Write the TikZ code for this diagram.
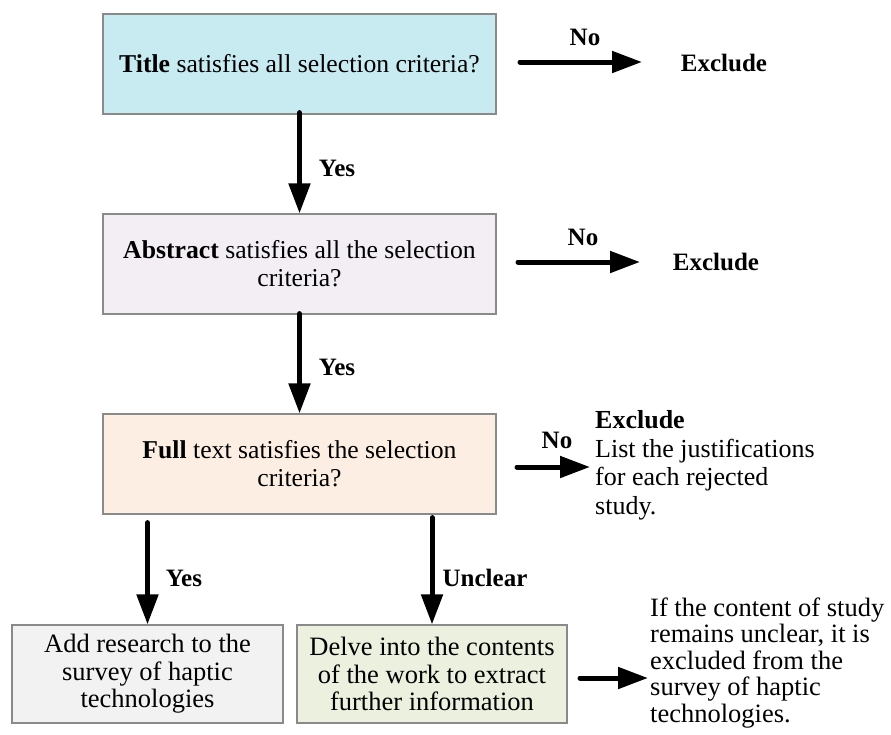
\documentclass[tikz,border=0pt]{standalone}
\usepackage{fontspec}
\setmainfont{Liberation Serif}
\usetikzlibrary{arrows.meta}
\definecolor{cyanbox}{HTML}{C7EBF1}
\definecolor{lavbox}{HTML}{F2EEF4}
\definecolor{peachbox}{HTML}{FDEEE3}
\definecolor{graybox}{HTML}{F2F2F2}
\definecolor{greenbox}{HTML}{EBF1DE}
\definecolor{boxline}{HTML}{8A8A8A}
\newcommand{\bodyfs}{\fontsize{25.7}{28}\selectfont}
\newcommand{\lowfs}{\fontsize{26.5}{27.5}\selectfont}
\newcommand{\lblfs}{\fontsize{25}{28}\selectfont\bfseries}
\begin{document}
\begin{tikzpicture}[x=1pt,y=-1pt,
  box/.style={draw=boxline, line width=1.2pt, align=center, inner sep=0pt, font=\bodyfs},
  arr/.style={line width=5pt, line cap=round, -{Triangle[length=30pt,width=21pt]}},
  lbl/.style={font=\lblfs, inner sep=0pt},
  side/.style={align=left, inner sep=0pt, anchor=west}
]
\useasboundingbox (0,0) rectangle (891,734);
\fill[white] (0,0) rectangle (891,734);

\node[box, fill=cyanbox, minimum width=393pt, minimum height=100pt] (b1) at (299.5,64)
  {\textbf{Title} satisfies all selection criteria?};
\node[box, fill=lavbox, minimum width=393pt, minimum height=100pt] (b2) at (299.5,264)
  {\textbf{Abstract} satisfies all the selection\\criteria?};
\node[box, fill=peachbox, minimum width=393pt, minimum height=100pt] (b3) at (299.5,464)
  {\textbf{Full} text satisfies the selection\\criteria?};
\node[box, fill=graybox, minimum width=271pt, minimum height=98pt, font=\lowfs] (bl) at (147.5,674)
  {Add research to the\\survey of haptic\\technologies};
\node[box, fill=greenbox, minimum width=270pt, minimum height=98pt, font=\lowfs] (bm) at (432,674)
  {Delve into the contents\\of the work to extract\\further information};

\node[lbl] (ex1) at (724,63) {Exclude};
\node[lbl] (ex2) at (716,262) {Exclude};
\node[side, font=\fontsize{26}{28.5}\selectfont] (ex3) at (595,465.5)
  {\textbf{Exclude}\\List the justifications\\for each rejected\\study.};
\node[side, font=\fontsize{26.5}{26.5}\selectfont] (ex4) at (650,663)
  {If the content of study\\remains unclear, it is\\excluded from the\\survey of haptic\\technologies.};

\coordinate (a1s) at (520,62);
\coordinate (a1e) at (642,62);
\coordinate (a2s) at (518,262);
\coordinate (a2e) at (640,262);
\coordinate (a3s) at (517,467);
\coordinate (a3e) at (590,467);
\coordinate (a4s) at (580,678);
\coordinate (a4e) at (648,678);

\draw[arr] ([yshift=2pt]b1.south) -- (b2.north);
\draw[arr] ([yshift=1pt]b2.south) -- (b3.north);
\draw[arr] ([yshift=-8pt]b3.south -| bl.north) -- (bl.north);
\draw[arr] ([yshift=-3pt]b3.south -| bm.north) -- (bm.north);
\draw[arr] (a1s) -- (a1e);
\draw[arr] (a2s) -- (a2e);
\draw[arr] (a3s) -- (a3e);
\draw[arr] (a4s) -- (a4e);

\node[lbl] (y1) at (337,168) {Yes};
\node[lbl] (y2) at (337,367) {Yes};
\node[lbl] (y3) at (184,578) {Yes};
\node[lbl] (u1) at (485,578) {Unclear};
\node[lbl] (n1) at (585,37) {No};
\node[lbl] (n2) at (583,237) {No};
\node[lbl] (n3) at (557,440) {No};
\end{tikzpicture}
\end{document}
